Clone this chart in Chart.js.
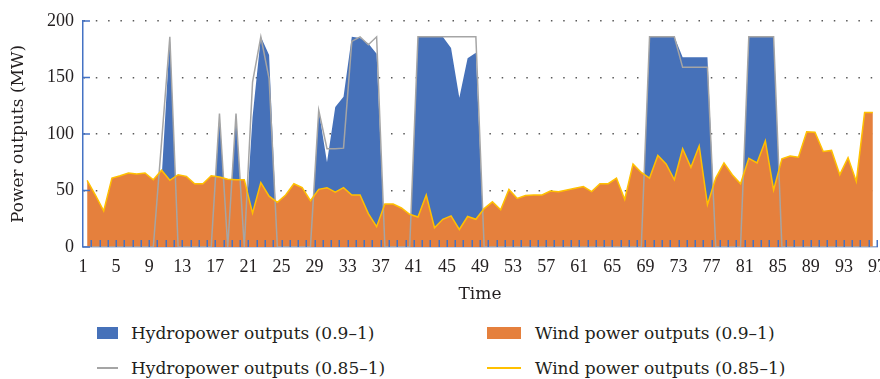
<!DOCTYPE html>
<html>
<head>
    <meta charset="utf-8">
    <title>Hydropower and wind power outputs</title>
    <script src="https://cdn.jsdelivr.net/npm/chart.js"></script>
    <style>
        body {
            margin: 0;
            background-color: #fff;
        }
        .wrap {
            position: relative;
            width: 880px;
            height: 379px;
        }
        .chart-container {
            position: absolute;
            left: 0;
            top: 0;
            width: 880px;
            height: 310px;
        }
        #legend {
            position: absolute;
            left: 97px;
            top: 323px;
            display: grid;
            grid-template-columns: 390px 390px;
            row-gap: 15px;
            font-family: 'DejaVu Serif', serif;
            font-size: 17px;
            color: #231f20;
        }
        .item {
            height: 20px;
            display: flex;
            align-items: center;
            white-space: nowrap;
        }
        .swatch { flex: none; width: 21px; margin-right: 13px; }
        .item:nth-child(even) .swatch { width: 34px; margin-right: 14px; }
        .swatch.box { height: 12px; }
        .swatch.line { height: 1.5px; }
    </style>
</head>
<body>
<div class="wrap">
    <div class="chart-container">
        <canvas id="powerChart"></canvas>
    </div>
    <div id="legend"></div>
</div>

<script>
    // time slots (x categories)
    const timeSlots = [
        1, 2, 3, 4, 5, 6, 7, 8, 9, 10, 11, 12, 13, 14, 15, 16,
        17, 18, 19, 20, 21, 22, 23, 24, 25, 26, 27, 28, 29, 30, 31, 32,
        33, 34, 35, 36, 37, 38, 39, 40, 41, 42, 43, 44, 45, 46, 47, 48,
        49, 50, 51, 52, 53, 54, 55, 56, 57, 58, 59, 60, 61, 62, 63, 64,
        65, 66, 67, 68, 69, 70, 71, 72, 73, 74, 75, 76, 77, 78, 79, 80,
        81, 82, 83, 84, 85, 86, 87, 88, 89, 90, 91, 92, 93, 94, 95, 96
    ];
    const xTickLabels = [1, 5, 9, 13, 17, 21, 25, 29, 33, 37, 41, 45, 49, 53, 57, 61, 65, 69, 73, 77, 81, 85, 89, 93, 97];
    const yTicks = [0, 50, 100, 150, 200];

    // Hydropower outputs (0.9-1), MW
    const hydro90 = [
        0, 0, 0, 0, 0, 0, 0, 0, 0, 60, 186, 0, 0, 0, 0, 0,
        118, 0, 118, 0, 115, 186, 170, 0, 0, 0, 0, 0, 121, 75, 124, 133,
        186, 185, 180, 171, 0, 0, 0, 0, 186, 186, 186, 186, 176, 132, 167, 172,
        0, 0, 0, 0, 0, 0, 0, 0, 0, 0, 0, 0, 0, 0, 0, 0,
        0, 0, 0, 0, 186, 186, 186, 186, 168, 168, 168, 168, 0, 0, 0, 0,
        186, 186, 186, 186, 0, 0, 0, 0, 0, 0, 0, 0, 0, 0, 0, 0
    ];
    // Wind power outputs (0.9-1), MW
    const wind90 = [
        59, 46, 32, 61, 63, 65.5, 64.5, 65.5, 59.5, 68, 59, 64, 62.5, 56, 56, 63,
        62, 60, 59.5, 59.5, 30, 57, 45, 39.5, 46, 56, 52.5, 41, 51, 52.5, 48.5, 52.5,
        46, 46, 29.5, 18, 38, 38, 34.5, 29, 26.5, 46, 17, 24.5, 27.5, 15.5, 27, 24.5,
        34, 40, 33, 51, 43, 45.5, 46, 46, 49.5, 49, 50.5, 52, 53.5, 49, 56, 56,
        61, 42, 73.5, 66, 61, 81, 73.5, 59.5, 87, 70.5, 89.5, 37.5, 61, 74.5, 64, 56,
        78.5, 74.5, 94, 50.5, 78, 80.5, 79.5, 102, 101.5, 84.5, 85.5, 64, 79, 58, 119, 119
    ];
    // Hydropower outputs (0.85-1), MW
    const hydro85 = [
        0, 0, 0, 0, 0, 0, 0, 0, 0, 93, 186, 0, 0, 0, 0, 0,
        118, 0, 118, 0, 146, 186, 149, 0, 0, 0, 0, 0, 121, 87, 87, 87.5,
        182, 186, 179, 186, 0, 0, 0, 0, 186, 186, 186, 186, 186, 186, 186, 186,
        0, 0, 0, 0, 0, 0, 0, 0, 0, 0, 0, 0, 0, 0, 0, 0,
        0, 0, 0, 0, 186, 186, 186, 186, 159, 159, 159, 159, 0, 0, 0, 0,
        186, 186, 186, 186, 0, 0, 0, 0, 0, 0, 0, 0, 0, 0, 0, 0
    ];
    // Wind power outputs (0.85-1), MW
    const wind85 = [
        59, 46, 32, 61, 63, 65.5, 64.5, 65.5, 59.5, 68, 59, 64, 62.5, 56, 56, 63,
        62, 60, 59.5, 59.5, 30, 57, 45, 39.5, 46, 56, 52.5, 41, 51, 52.5, 48.5, 52.5,
        46, 46, 29.5, 18, 38, 38, 34.5, 29, 26.5, 46, 17, 24.5, 27.5, 15.5, 27, 24.5,
        34, 40, 33, 51, 43, 45.5, 46, 46, 49.5, 49, 50.5, 52, 53.5, 49, 56, 56,
        61, 42, 73.5, 66, 61, 81, 73.5, 59.5, 87, 70.5, 89.5, 37.5, 61, 74.5, 64, 56,
        78.5, 74.5, 94, 50.5, 78, 80.5, 79.5, 102, 101.5, 84.5, 85.5, 64, 79, 58, 119, 119
    ];

    // points sit in the middle of each time slot
    const toPoints = vals => vals.map((v, i) => ({ x: timeSlots[i] + 0.5, y: v }));

    const textColor = '#231f20';
    const axisBlue = '#4472C4';

    // small blue tick marks pointing into the plot
    const innerTicks = {
        id: 'innerTicks',
        afterDatasetsDraw(chart) {
            const { ctx, scales: { x, y }, chartArea } = chart;
            ctx.save();
            ctx.strokeStyle = axisBlue;
            ctx.lineWidth = 1.5;
            ctx.beginPath();
            timeSlots.forEach(t => {
                const px = Math.round(x.getPixelForValue(t + 1)) + 0.25;
                ctx.moveTo(px, chartArea.bottom);
                ctx.lineTo(px, chartArea.bottom - 7);
            });
            yTicks.forEach(v => {
                const py = y.getPixelForValue(v);
                ctx.moveTo(chartArea.left, py);
                ctx.lineTo(chartArea.left + 7, py);
            });
            ctx.stroke();
            ctx.restore();
        }
    };

    const ctx = document.getElementById('powerChart').getContext('2d');
    const chart = new Chart(ctx, {
        type: 'line',
        data: {
            datasets: [
                {
                    label: 'Hydropower outputs (0.9–1)',
                    data: toPoints(hydro90),
                    backgroundColor: '#4671B9',
                    borderColor: 'rgba(0,0,0,0)',
                    borderWidth: 0,
                    fill: 'origin',
                    order: 3
                },
                {
                    label: 'Wind power outputs (0.9–1)',
                    data: toPoints(wind90),
                    backgroundColor: '#E5803D',
                    borderColor: 'rgba(0,0,0,0)',
                    borderWidth: 0,
                    fill: 'origin',
                    order: 2
                },
                {
                    label: 'Hydropower outputs (0.85–1)',
                    data: toPoints(hydro85),
                    borderColor: '#A5A5A5',
                    borderWidth: 1.5,
                    fill: false,
                    order: 1
                },
                {
                    label: 'Wind power outputs (0.85–1)',
                    data: toPoints(wind85),
                    borderColor: '#FFC000',
                    borderWidth: 1.5,
                    fill: false,
                    order: 0
                }
            ]
        },
        options: {
            responsive: true,
            maintainAspectRatio: false,
            animation: false,
            layout: {
                padding: { left: 0, right: 3, top: 21, bottom: 0 }
            },
            elements: {
                point: { radius: 0 },
                line: { tension: 0 }
            },
            scales: {
                x: {
                    type: 'linear',
                    min: 1,
                    max: 97,
                    afterBuildTicks: s => { s.ticks = xTickLabels.map(v => ({ value: v })); },
                    afterFit: s => { s.paddingLeft = 0; s.paddingRight = 0; s.height = 63; },
                    grid: { display: true, drawOnChartArea: false, drawTicks: false },
                    border: { display: true, color: '#8FA7D4', width: 1.5 },
                    ticks: {
                        color: textColor,
                        padding: 9,
                        maxRotation: 0,
                        autoSkip: false,
                        font: { family: 'Liberation Serif', size: 18 }
                    },
                    title: {
                        display: true,
                        text: 'Time',
                        color: textColor,
                        padding: { top: 0, bottom: 5 },
                        font: { family: 'DejaVu Serif', size: 17 }
                    }
                },
                y: {
                    min: 0,
                    max: 200,
                    afterBuildTicks: s => { s.ticks = yTicks.map(v => ({ value: v })); },
                    afterFit: s => { s.width = 83; s.paddingTop = 0; s.paddingBottom = 0; },
                    grid: {
                        color: c => (c.tick && c.tick.value === 0) ? 'rgba(0,0,0,0)' : '#595959',
                        lineWidth: 1.5,
                        drawTicks: false
                    },
                    border: { display: true, color: axisBlue, width: 1.5, dash: [1.5, 10.8] },
                    ticks: {
                        color: textColor,
                        padding: 9,
                        font: { family: 'Liberation Serif', size: 18 }
                    },
                    title: {
                        display: true,
                        text: 'Power outputs (MW)',
                        color: textColor,
                        padding: { top: 8, bottom: 0 },
                        font: { family: 'DejaVu Serif', size: 17 }
                    }
                }
            },
            plugins: {
                legend: { display: false },
                tooltip: { enabled: false }
            }
        },
        plugins: [innerTicks]
    });

    // legend below the chart, two columns
    const legendBox = document.getElementById('legend');
    chart.data.datasets.forEach(ds => {
        const item = document.createElement('div');
        item.className = 'item';
        const sw = document.createElement('span');
        sw.className = 'swatch ' + (ds.fill ? 'box' : 'line');
        sw.style.background = ds.fill ? ds.backgroundColor : ds.borderColor;
        item.appendChild(sw);
        item.appendChild(document.createTextNode(ds.label));
        legendBox.appendChild(item);
    });
</script>
</body>
</html>
